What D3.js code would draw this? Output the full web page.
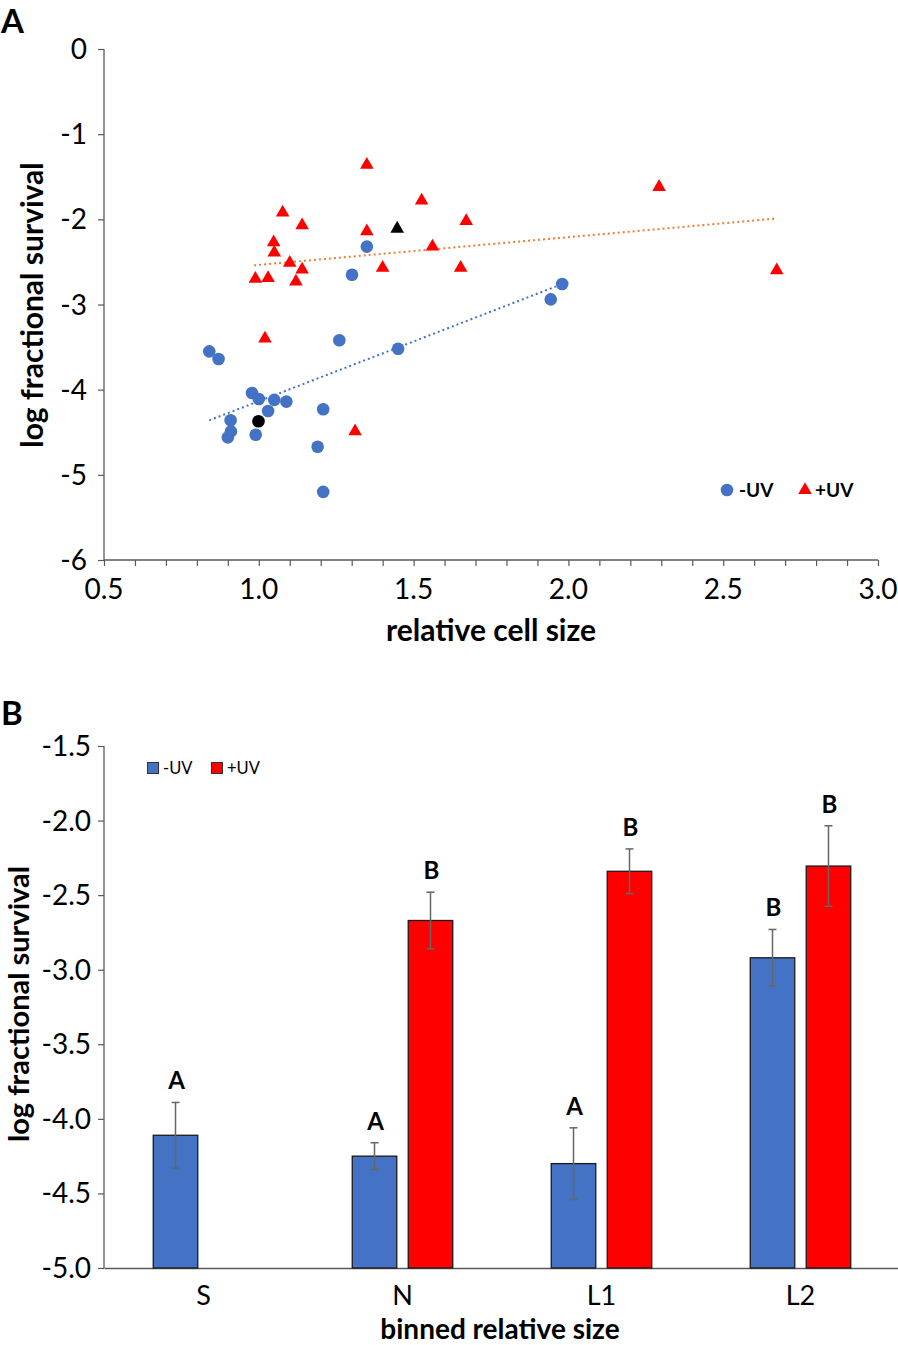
<!DOCTYPE html>
<html><head><meta charset="utf-8">
<script src="https://cdn.jsdelivr.net/npm/d3@7"></script>
<style>body{margin:0;background:#fff}svg{display:block;font-family:Lato,"Liberation Sans",sans-serif}</style>
</head><body>
<svg id="c" width="898" height="1345"></svg>
<script>
// ---------- Panel A data ----------
const minusUV_x = [1.349,1.301,1.260,0.840,0.870,0.978,1.000,1.050,1.089,1.030,1.208,0.909,0.910,0.900,0.990,1.190,1.208,1.450,1.980,1.943];
const minusUV_y = [-2.32,-2.65,-3.42,-3.55,-3.64,-4.04,-4.11,-4.12,-4.14,-4.25,-4.23,-4.36,-4.49,-4.56,-4.53,-4.67,-5.20,-3.52,-2.76,-2.94];
const plusUV_x = [1.349,1.526,1.077,1.140,1.349,1.670,2.293,1.048,1.050,1.561,1.100,1.140,1.400,1.652,0.989,1.030,1.120,2.673,1.020,1.311];
const plusUV_y = [-1.36,-1.78,-1.92,-2.07,-2.14,-2.02,-1.62,-2.27,-2.39,-2.32,-2.51,-2.59,-2.57,-2.57,-2.70,-2.69,-2.73,-2.60,-3.40,-4.49];
const refMinus = [0.999,-4.37];
const refPlus = [1.447,-2.11];
const trendMinus = [[0.84,-4.36],[1.98,-2.76]];
const trendPlus = [[0.985,-2.54],[2.673,-1.99]];
const xTicksA = [0.5,1.0,1.5,2.0,2.5,3.0];
const yTicksA = [0,-1,-2,-3,-4,-5,-6];

// ---------- Panel B data ----------
const bins = ["S","N","L1","L2"];
const barMinus = [-4.11,-4.25,-4.30,-2.92];
const errMinus = [0.22,0.09,0.24,0.19];
const barPlus = [null,-2.67,-2.34,-2.305];
const errPlus = [null,0.19,0.15,0.27];
const letterMinus = ["A","A","A","B"];
const letterPlus = [null,"B","B","B"];
const yTicksB = [-1.5,-2.0,-2.5,-3.0,-3.5,-4.0,-4.5,-5.0];

const BLUE = "#4472C4", RED = "#FF0000", AX = "#595959";
const svg = d3.select("#c");

// ================= Panel A =================
const xA = d3.scaleLinear().domain([0.5,3.0]).range([104,878]);
const yA = d3.scaleLinear().domain([0,-6]).range([49,560]);
const gA = svg.append("g");

const xAxisA = gA.append("g").attr("transform",`translate(0,${yA(-6)})`)
  .call(d3.axisBottom(xA).tickValues(d3.range(5,31).map(d=>d/10)).tickSize(6).tickFormat(""));
xAxisA.selectAll("line").attr("stroke",AX).attr("stroke-width",1.2);
xAxisA.select(".domain").attr("stroke",AX).attr("stroke-width",1.3).attr("d",`M${xA(0.5)},0H${xA(3.0)}`);
gA.selectAll(".xtA").data(xTicksA).join("text")
  .attr("x",d=>xA(d)).attr("y",yA(-6)+39).attr("text-anchor","middle")
  .attr("font-size",28).attr("fill","#000").text(d=>d.toFixed(1));

const yAxisA = gA.append("g").attr("transform",`translate(${xA(0.5)},0)`)
  .call(d3.axisLeft(yA).tickValues(yTicksA).tickSize(6).tickFormat(""));
yAxisA.selectAll("line").attr("stroke",AX).attr("stroke-width",1.2);
yAxisA.select(".domain").attr("stroke",AX).attr("stroke-width",1.3).attr("d",`M0,${yA(0)}V${yA(-6)}`);
gA.selectAll(".ytA").data(yTicksA).join("text")
  .attr("x",xA(0.5)-17).attr("y",d=>yA(d)+10).attr("text-anchor","end")
  .attr("font-size",28).attr("fill","#000").text(d=>d===0?"0":"-"+Math.abs(d));

const lineA = d3.line().x(d=>xA(d[0])).y(d=>yA(d[1]));
gA.append("path").attr("d",lineA(trendMinus)).attr("stroke",BLUE).attr("stroke-width",2)
  .attr("stroke-dasharray","2,3").attr("fill","none");
gA.append("path").attr("d",lineA(trendPlus)).attr("stroke","#ED7D31").attr("stroke-width",2)
  .attr("stroke-dasharray","2,3").attr("fill","none");

const tri = d3.symbol().type(d3.symbolTriangle).size(80);
gA.selectAll(".pt").data(plusUV_x.map((x,i)=>[x,plusUV_y[i]])).join("path")
  .attr("d",tri).attr("transform",d=>`translate(${xA(d[0])},${yA(d[1])})`).attr("fill",RED);
gA.selectAll(".mc").data(minusUV_x.map((x,i)=>[x,minusUV_y[i]])).join("circle")
  .attr("cx",d=>xA(d[0])).attr("cy",d=>yA(d[1])).attr("r",6.3).attr("fill",BLUE);
gA.append("circle").attr("cx",xA(refMinus[0])).attr("cy",yA(refMinus[1])).attr("r",6.3).attr("fill","#000");
gA.append("path").attr("d",tri).attr("transform",`translate(${xA(refPlus[0])},${yA(refPlus[1])})`).attr("fill","#000");

// legend A
gA.append("circle").attr("cx",727).attr("cy",490).attr("r",6.3).attr("fill",BLUE);
gA.append("text").attr("x",739).attr("y",497).attr("font-size",19).attr("font-weight","bold").text("-UV");
gA.append("path").attr("d",tri).attr("transform","translate(805,490)").attr("fill",RED);
gA.append("text").attr("x",815).attr("y",497).attr("font-size",19).attr("font-weight","bold").text("+UV");

gA.append("text").attr("x",491).attr("y",641).attr("text-anchor","middle")
  .attr("font-size",30).attr("font-weight","bold").text("relative cell size");
gA.append("text").attr("transform","translate(43,305) rotate(-90)").attr("text-anchor","middle")
  .attr("font-size",30).attr("font-weight","bold").text("log fractional survival");
svg.append("text").attr("x",1).attr("y",33).attr("font-size",33).attr("font-weight","bold").text("A");

// ================= Panel B =================
const xB = d3.scaleBand().domain(bins).range([104,900]);
const sub = d3.scaleBand().domain(["m","p"]).range([0,100.5]).paddingInner(0.205);
const yB = d3.scaleLinear().domain([-1.5,-5.0]).range([746,1268]);
const gB = svg.append("g");

const yAxisB = gB.append("g").attr("transform",`translate(${xB.range()[0]},0)`)
  .call(d3.axisLeft(yB).tickValues(yTicksB).tickSize(6).tickFormat(""));
yAxisB.selectAll("line").attr("stroke",AX).attr("stroke-width",1.2);
yAxisB.select(".domain").attr("stroke",AX).attr("stroke-width",1.3).attr("d",`M0,${yB(-1.5)}V${yB(-5.0)}`);
gB.selectAll(".ytB").data(yTicksB).join("text")
  .attr("x",xB.range()[0]-13).attr("y",d=>yB(d)+10).attr("text-anchor","end")
  .attr("font-size",28).text(d=>d.toFixed(1));

const xAxisB = gB.append("g").attr("transform",`translate(0,${yB(-5.0)})`)
  .call(d3.axisBottom(xB).tickSize(0).tickFormat(""));
xAxisB.select(".domain").attr("stroke",AX).attr("stroke-width",1.5);
gB.selectAll(".xtB").data(bins).join("text")
  .attr("x",d=>xB(d)+xB.bandwidth()/2).attr("y",1305).attr("text-anchor","middle")
  .attr("font-size",27).text(d=>d);

function groupX(i){ return xB(bins[i]) + xB.bandwidth()/2 - 50.25; }
function drawSeries(vals, errs, letters, key, color){
  vals.forEach((v,i)=>{
    if(v===null) return;
    const x0 = groupX(i) + sub(key), w = sub.bandwidth(), cx = x0 + w/2;
    gB.append("rect").attr("x",x0).attr("y",yB(v)).attr("width",w).attr("height",yB(-5.0)-yB(v))
      .attr("fill",color).attr("stroke","#1a1a1a").attr("stroke-width",1.3);
    const t = yB(v+errs[i]), b = yB(v-errs[i]);
    gB.append("line").attr("x1",cx).attr("x2",cx).attr("y1",t).attr("y2",b).attr("stroke","#666").attr("stroke-width",1.5);
    [t,b].forEach(yy=>gB.append("line").attr("x1",cx-4).attr("x2",cx+4).attr("y1",yy).attr("y2",yy).attr("stroke","#666").attr("stroke-width",1.5));
    gB.append("text").attr("x",cx+1).attr("y",t-13).attr("text-anchor","middle")
      .attr("font-size",24).attr("font-weight","bold").text(letters[i]);
  });
}
drawSeries(barMinus, errMinus, letterMinus, "m", BLUE);
drawSeries(barPlus, errPlus, letterPlus, "p", RED);

// legend B
gB.append("rect").attr("x",147.5).attr("y",762.5).attr("width",11).attr("height",11).attr("fill",BLUE).attr("stroke","#333").attr("stroke-width",1);
gB.append("text").attr("x",163).attr("y",774).attr("font-size",16.5).text("-UV");
gB.append("rect").attr("x",211.5).attr("y",762.5).attr("width",11).attr("height",11).attr("fill",RED).attr("stroke","#333").attr("stroke-width",1);
gB.append("text").attr("x",227).attr("y",774).attr("font-size",16.5).text("+UV");

gB.append("text").attr("x",500).attr("y",1339).attr("text-anchor","middle")
  .attr("font-size",28).attr("font-weight","bold").text("binned relative size");
gB.append("text").attr("transform","translate(29,1004) rotate(-90)").attr("text-anchor","middle")
  .attr("font-size",29).attr("font-weight","bold").text("log fractional survival");
svg.append("text").attr("x",1).attr("y",725).attr("font-size",33).attr("font-weight","bold").text("B");
</script>
</body></html>
